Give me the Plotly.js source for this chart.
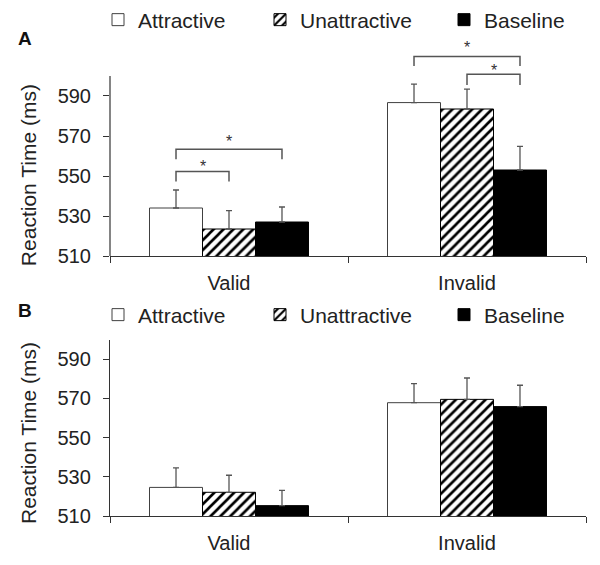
<!DOCTYPE html>
<html><head><meta charset="utf-8">
<script src="https://cdn.plot.ly/plotly-3.0.1.min.js"></script>
<style>html,body{margin:0;padding:0;background:#fff}</style>
</head><body><div id="chart" style="width:600px;height:565px"></div>
<script>
// ---- data ----
const categories = ['Valid', 'Invalid'];
const seriesNames = ['Attractive', 'Unattractive', 'Baseline'];
const yTicks = [510, 530, 550, 570, 590];

// Panel A
const panelA_attractive = [534, 586.7];
const panelA_unattractive = [523.5, 583.5];
const panelA_baseline = [527, 553];
const panelA_attractive_err = [9, 9.2];
const panelA_unattractive_err = [9.2, 9.9];
const panelA_baseline_err = [7.5, 11.8];

// Panel B
const panelB_attractive = [524.6, 567.8];
const panelB_unattractive = [522.1, 569.5];
const panelB_baseline = [515.3, 565.8];
const panelB_attractive_err = [10, 9.7];
const panelB_unattractive_err = [8.7, 10.9];
const panelB_baseline_err = [7.8, 10.9];

// significance brackets (panel A): category index, series indices, bracket height, leg drop, star height
const sigCat = [0, 0, 1, 1];
const sigFrom = [0, 0, 0, 1];
const sigTo = [1, 2, 2, 2];
const sigY = [552.2, 563.4, 609.7, 600.9];
const sigDrop = [5, 5, 4.7, 5.4];
const sigStarY = [557, 569.2, 616, 604.7];

// ---- build ----
const bargap = 0.332;
const barW = (1 - bargap) / seriesNames.length;
const barX = (cat, s) => cat + (s - (seriesNames.length - 1) / 2) * barW;

const styles = [
  {color: '#ffffff', line: {color: '#404040', width: 1}},
  {color: '#ffffff', pattern: {shape: '/', fgcolor: '#000000', bgcolor: '#ffffff', size: 7, solidity: 0.38}, line: {color: '#000000', width: 1}},
  {color: '#000000', line: {color: '#000000', width: 1}}
];
const legendWidths = [117, 139, 86];
const A = [[panelA_attractive, panelA_attractive_err], [panelA_unattractive, panelA_unattractive_err], [panelA_baseline, panelA_baseline_err]];
const B = [[panelB_attractive, panelB_attractive_err], [panelB_unattractive, panelB_unattractive_err], [panelB_baseline, panelB_baseline_err]];

const traces = [];
function addPanel(data, xa, ya, leg) {
  data.forEach((d, i) => {
    traces.push({
      type: 'bar', name: seriesNames[i], x: categories, y: d[0],
      xaxis: xa, yaxis: ya, legend: leg, legendwidth: legendWidths[i], marker: styles[i],
      error_y: {type: 'data', symmetric: false, array: d[1], arrayminus: d[1].map(() => 0),
                color: '#555555', thickness: 1.3, width: 3},
      hoverinfo: 'skip'
    });
  });
}
addPanel(A, 'x', 'y', 'legend');
addPanel(B, 'x2', 'y2', 'legend2');

const shapes = [{type: 'line', xref: 'paper', yref: 'y', x0: 0, x1: 0, y0: 510, y1: 600,
                 line: {color: '#333333', width: 1.2}}];
const annotations = [];
sigCat.forEach((c, k) => {
  const x0 = barX(c, sigFrom[k]), x1 = barX(c, sigTo[k]);
  const yb = sigY[k] - sigDrop[k];
  shapes.push({type: 'path', xref: 'x', yref: 'y',
    path: `M${x0},${yb} L${x0},${sigY[k]} L${x1},${sigY[k]} L${x1},${yb}`,
    line: {color: '#555555', width: 1.5}});
  annotations.push({xref: 'x', yref: 'y', x: (x0 + x1) / 2, y: sigStarY[k], text: '*', showarrow: false,
    xanchor: 'center', yanchor: 'middle', font: {size: 16, color: '#333333'}, yshift: -4});
});

const axisX = {type: 'category', showline: true, linecolor: '#333333', linewidth: 1.2, ticks: 'outside',
  tickson: 'boundaries', ticklen: 6, tickcolor: '#333333', showgrid: false, zeroline: false,
  tickfont: {size: 20}, ticklabelstandoff: 9, domain: [0, 1]};
const axisY = {ticks: 'outside', ticklen: 6, tickcolor: '#333333', tickvals: yTicks, showgrid: false,
  zeroline: false, tickfont: {size: 20}, ticklabelstandoff: 8};

const labelBase = {xref: 'paper', yref: 'paper', showarrow: false, xanchor: 'center', yanchor: 'middle'};
annotations.push(
  Object.assign({}, labelBase, {x: -0.1786, y: 0.9327, text: '<b>A</b>', font: {size: 19, color: '#111'}}),
  Object.assign({}, labelBase, {x: -0.1786, y: 0.4496, text: '<b>B</b>', font: {size: 19, color: '#111'}}),
  Object.assign({}, labelBase, {x: -0.1723, y: 0.690, text: 'Reaction Time (ms)', textangle: -90, font: {size: 21}}),
  Object.assign({}, labelBase, {x: -0.1723, y: 0.2336, text: 'Reaction Time (ms)', textangle: -90, font: {size: 21}})
);

const legendBase = {orientation: 'h', xref: 'container', xanchor: 'left', yanchor: 'middle', x: 98 / 600,
  font: {size: 21}, bgcolor: 'rgba(0,0,0,0)', traceorder: 'normal'};

const layout = {
  width: 600, height: 565, margin: {l: 110, r: 14, t: 0, b: 0, autoexpand: false},
  paper_bgcolor: '#ffffff', plot_bgcolor: '#ffffff',
  barmode: 'group', bargap: bargap, bargroupgap: 0,
  font: {family: 'Liberation Sans, Arial, sans-serif', size: 20, color: '#222222'},
  xaxis: Object.assign({}, axisX, {anchor: 'y'}),
  yaxis: Object.assign({}, axisY, {anchor: 'x', domain: [0.5469, 0.954], range: [510, 625], showline: false}),
  xaxis2: Object.assign({}, axisX, {anchor: 'y2'}),
  yaxis2: Object.assign({}, axisY, {anchor: 'x2', domain: [0.0867, 0.399], range: [510, 600], showline: true, linecolor: '#333333', linewidth: 1.2}),
  legend: Object.assign({}, legendBase, {y: 0.9646}),
  legend2: Object.assign({}, legendBase, {y: 0.4425}),
  shapes: shapes, annotations: annotations, showlegend: true
};

Plotly.newPlot('chart', traces, layout, {displayModeBar: false, staticPlot: true});
</script></body></html>
